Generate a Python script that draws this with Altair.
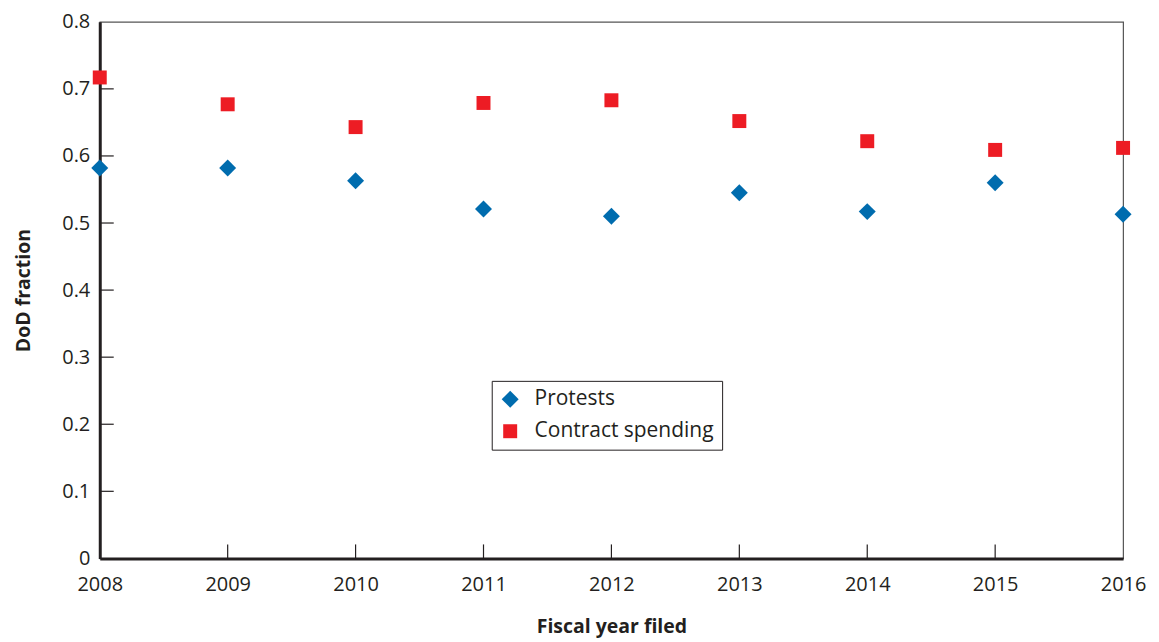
import altair as alt
import pandas as pd

years = [2008, 2009, 2010, 2011, 2012, 2013, 2014, 2015, 2016]
protests = [0.582, 0.582, 0.563, 0.521, 0.510, 0.545, 0.517, 0.560, 0.513]
spending = [0.717, 0.677, 0.643, 0.679, 0.683, 0.652, 0.622, 0.609, 0.612]
series = ["Protests", "Contract spending"]
y_ticks = [0.1, 0.2, 0.3, 0.4, 0.5, 0.6, 0.7]
x_ticks = [2009, 2010, 2011, 2012, 2013, 2014, 2015]

rows = []
for yr, p, s in zip(years, protests, spending):
    rows.append({"year": yr, "value": p, "series": series[0]})
    rows.append({"year": yr, "value": s, "series": series[1]})
df = pd.DataFrame(rows)

FONT = "Open Sans"
TXT = "#231f20"

xscale = alt.Scale(domain=[2008, 2016], nice=False)
yscale = alt.Scale(domain=[0, 0.8], nice=False)

points = alt.Chart(df).mark_point(filled=True, opacity=1, strokeWidth=0).encode(
    x=alt.X("year:Q", scale=xscale,
            axis=alt.Axis(title="Fiscal year filed", values=years, format="d",
                          ticks=False, grid=False, labelPadding=16, labelFlush=False,
                          labelOverlap=False,
                          titlePadding=23, domainColor="#231f20", domainWidth=3)),
    y=alt.Y("value:Q", scale=yscale,
            axis=alt.Axis(title="DoD fraction", values=[0, 0.1, 0.2, 0.3, 0.4, 0.5, 0.6, 0.7, 0.8],
                          format="~g", ticks=False, grid=False, labelPadding=10,
                          labelFlush=False, labelOverlap=False,
                          titlePadding=28, domainColor="#231f20", domainWidth=3)),
    color=alt.Color("series:N",
                    scale=alt.Scale(domain=series, range=["#006cae", "#ed1c24"]),
                    legend=alt.Legend(title=None, orient="none", legendX=393, legendY=360,
                                      strokeColor="#231f20", fillColor="white",
                                      padding=8, labelFontSize=21, labelFont=FONT,
                                      labelColor=TXT, symbolSize=200, labelOffset=14,
                                      rowPadding=10, symbolStrokeWidth=0, labelLimit=400)),
    shape=alt.Shape("series:N",
                    scale=alt.Scale(domain=series, range=["diamond", "square"]),
                    legend=alt.Legend(title=None, orient="none", legendX=393, legendY=360)),
    size=alt.Size("series:N", scale=alt.Scale(domain=series, range=[289, 196]), legend=None),
)

ydf = pd.DataFrame({"v": y_ticks})
ytick_layer = alt.Chart(ydf).mark_rule(color="#231f20", strokeWidth=1.2).encode(
    y=alt.Y("v:Q", scale=yscale),
    x=alt.value(0),
    x2=alt.value(14),
)

xdf = pd.DataFrame({"yr": x_ticks})
xtick_layer = alt.Chart(xdf).mark_rule(color="#231f20", strokeWidth=1.2).encode(
    x=alt.X("yr:Q", scale=xscale),
    y=alt.value(538),
    y2=alt.value(524),
)

chart = alt.layer(ytick_layer, xtick_layer, points).properties(
    width=1026, height=538,
    padding={"left": 5, "top": 3, "right": 5, "bottom": 5},
    background="white",
).configure_view(
    stroke="#555555", strokeWidth=1.2
).configure_axis(
    labelFont=FONT, labelFontSize=20, labelColor=TXT,
    titleFont=FONT, titleFontSize=19.5, titleFontWeight="bold", titleColor=TXT,
)

chart.save("out.html", embed_options={"renderer": "svg", "actions": False})
